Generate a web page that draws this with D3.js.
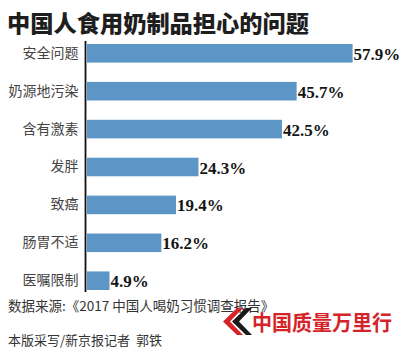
<!DOCTYPE html>
<html>
<head>
<meta charset="utf-8">
<script src="https://cdn.jsdelivr.net/npm/d3@7"></script>
<style>
  html, body { margin: 0; padding: 0; background: #fff; }
  svg { display: block; }
</style>
</head>
<body>
<svg id="chart" width="400" height="349"></svg>
<script>
// Survey: what Chinese consumers worry about with dairy products (%)
const categories = ["安全问题", "奶源地污染", "含有激素", "发胖", "致癌", "肠胃不适", "医嘱限制"];
const shares = [57.9, 45.7, 42.5, 24.3, 19.4, 16.2, 4.9];
const valueLabels = ["57.9%", "45.7%", "42.5%", "24.3%", "19.4%", "16.2%", "4.9%"];

const titleText = "中国人食用奶制品担心的问题";
const sourceText = "数据来源:《2017 中国人喝奶习惯调查报告》";
const creditText = "本版采写/新京报记者  郭铁";
const brandText = "中国质量万里行";

const svg = d3.select("#chart");
const cjk = "'Noto Sans CJK SC', 'Noto Sans', sans-serif";

const x = d3.scaleLinear().domain([0, d3.max(shares)]).range([87, 352.6]);
const y = d3.scaleBand().domain(categories).range([44, 290]).paddingInner(0.51).paddingOuter(0);

// Title
svg.append("text")
  .attr("x", 7).attr("y", 22)
  .attr("dominant-baseline", "central")
  .attr("textLength", 302).attr("lengthAdjust", "spacingAndGlyphs")
  .style("font-family", cjk).style("font-weight", 900)
  .style("font-size", "23px").attr("fill", "#1e1e1e")
  .text(titleText);

// Bars
svg.append("g").selectAll("rect")
  .data(categories)
  .join("rect")
  .attr("x", x(0))
  .attr("y", d => y(d))
  .attr("width", (d, i) => x(shares[i]) - x(0))
  .attr("height", y.bandwidth())
  .attr("fill", "#5c96c6");

// Category axis on the left (line only, labels drawn from the band scale)
const axis = d3.axisLeft(y).tickSize(0).tickPadding(7);
const gAxis = svg.append("g").attr("transform", `translate(${x(0) - 1.5},0)`).call(axis);
gAxis.select(".domain").remove();
gAxis.selectAll("text")
  .style("font-family", cjk).style("font-size", "14px").attr("fill", "#444");
svg.append("line")
  .attr("x1", x(0) - 1.5).attr("x2", x(0) - 1.5)
  .attr("y1", 41).attr("y2", 292)
  .attr("stroke", "#111").attr("stroke-width", 1.8);

// Value labels
svg.append("g").selectAll("text")
  .data(categories)
  .join("text")
  .attr("x", (d, i) => x(shares[i]) + 1)
  .attr("y", d => y(d) + y.bandwidth() / 2 + 1)
  .attr("dominant-baseline", "central")
  .style("font-family", "'Liberation Serif', 'DejaVu Serif', serif")
  .style("font-weight", "bold").style("font-size", "17px")
  .attr("fill", "#151515")
  .text((d, i) => valueLabels[i]);

// Source and credit lines
svg.append("text")
  .attr("x", 8).attr("y", 305)
  .attr("dominant-baseline", "central")
  .style("font-family", cjk).style("font-size", "13.5px").attr("fill", "#333")
  .text(sourceText);
svg.append("text")
  .attr("x", 8).attr("y", 339.5)
  .attr("dominant-baseline", "central")
  .style("white-space", "pre")
  .style("font-family", cjk).style("font-size", "13px").attr("fill", "#333")
  .text(creditText);

// Brand mark: double chevron followed by red wordmark
const mark = svg.append("g").attr("transform", "translate(223,308)");
mark.append("path")
  .attr("d", "M14,0 L20,0 L7,13.5 L20,27 L14,27 L0,13.5 Z")
  .attr("fill", "#d4242a");
mark.append("path")
  .attr("d", "M23,0 L29,0 L16,13.5 L29,27 L23,27 L9,13.5 Z")
  .attr("fill", "#1a1a1a");
svg.append("text")
  .attr("x", 252).attr("y", 321)
  .attr("dominant-baseline", "central")
  .attr("textLength", 140).attr("lengthAdjust", "spacingAndGlyphs")
  .style("font-family", cjk).style("font-weight", "bold")
  .style("font-size", "21px").attr("fill", "#d4242a")
  .text(brandText);
</script>
</body>
</html>
